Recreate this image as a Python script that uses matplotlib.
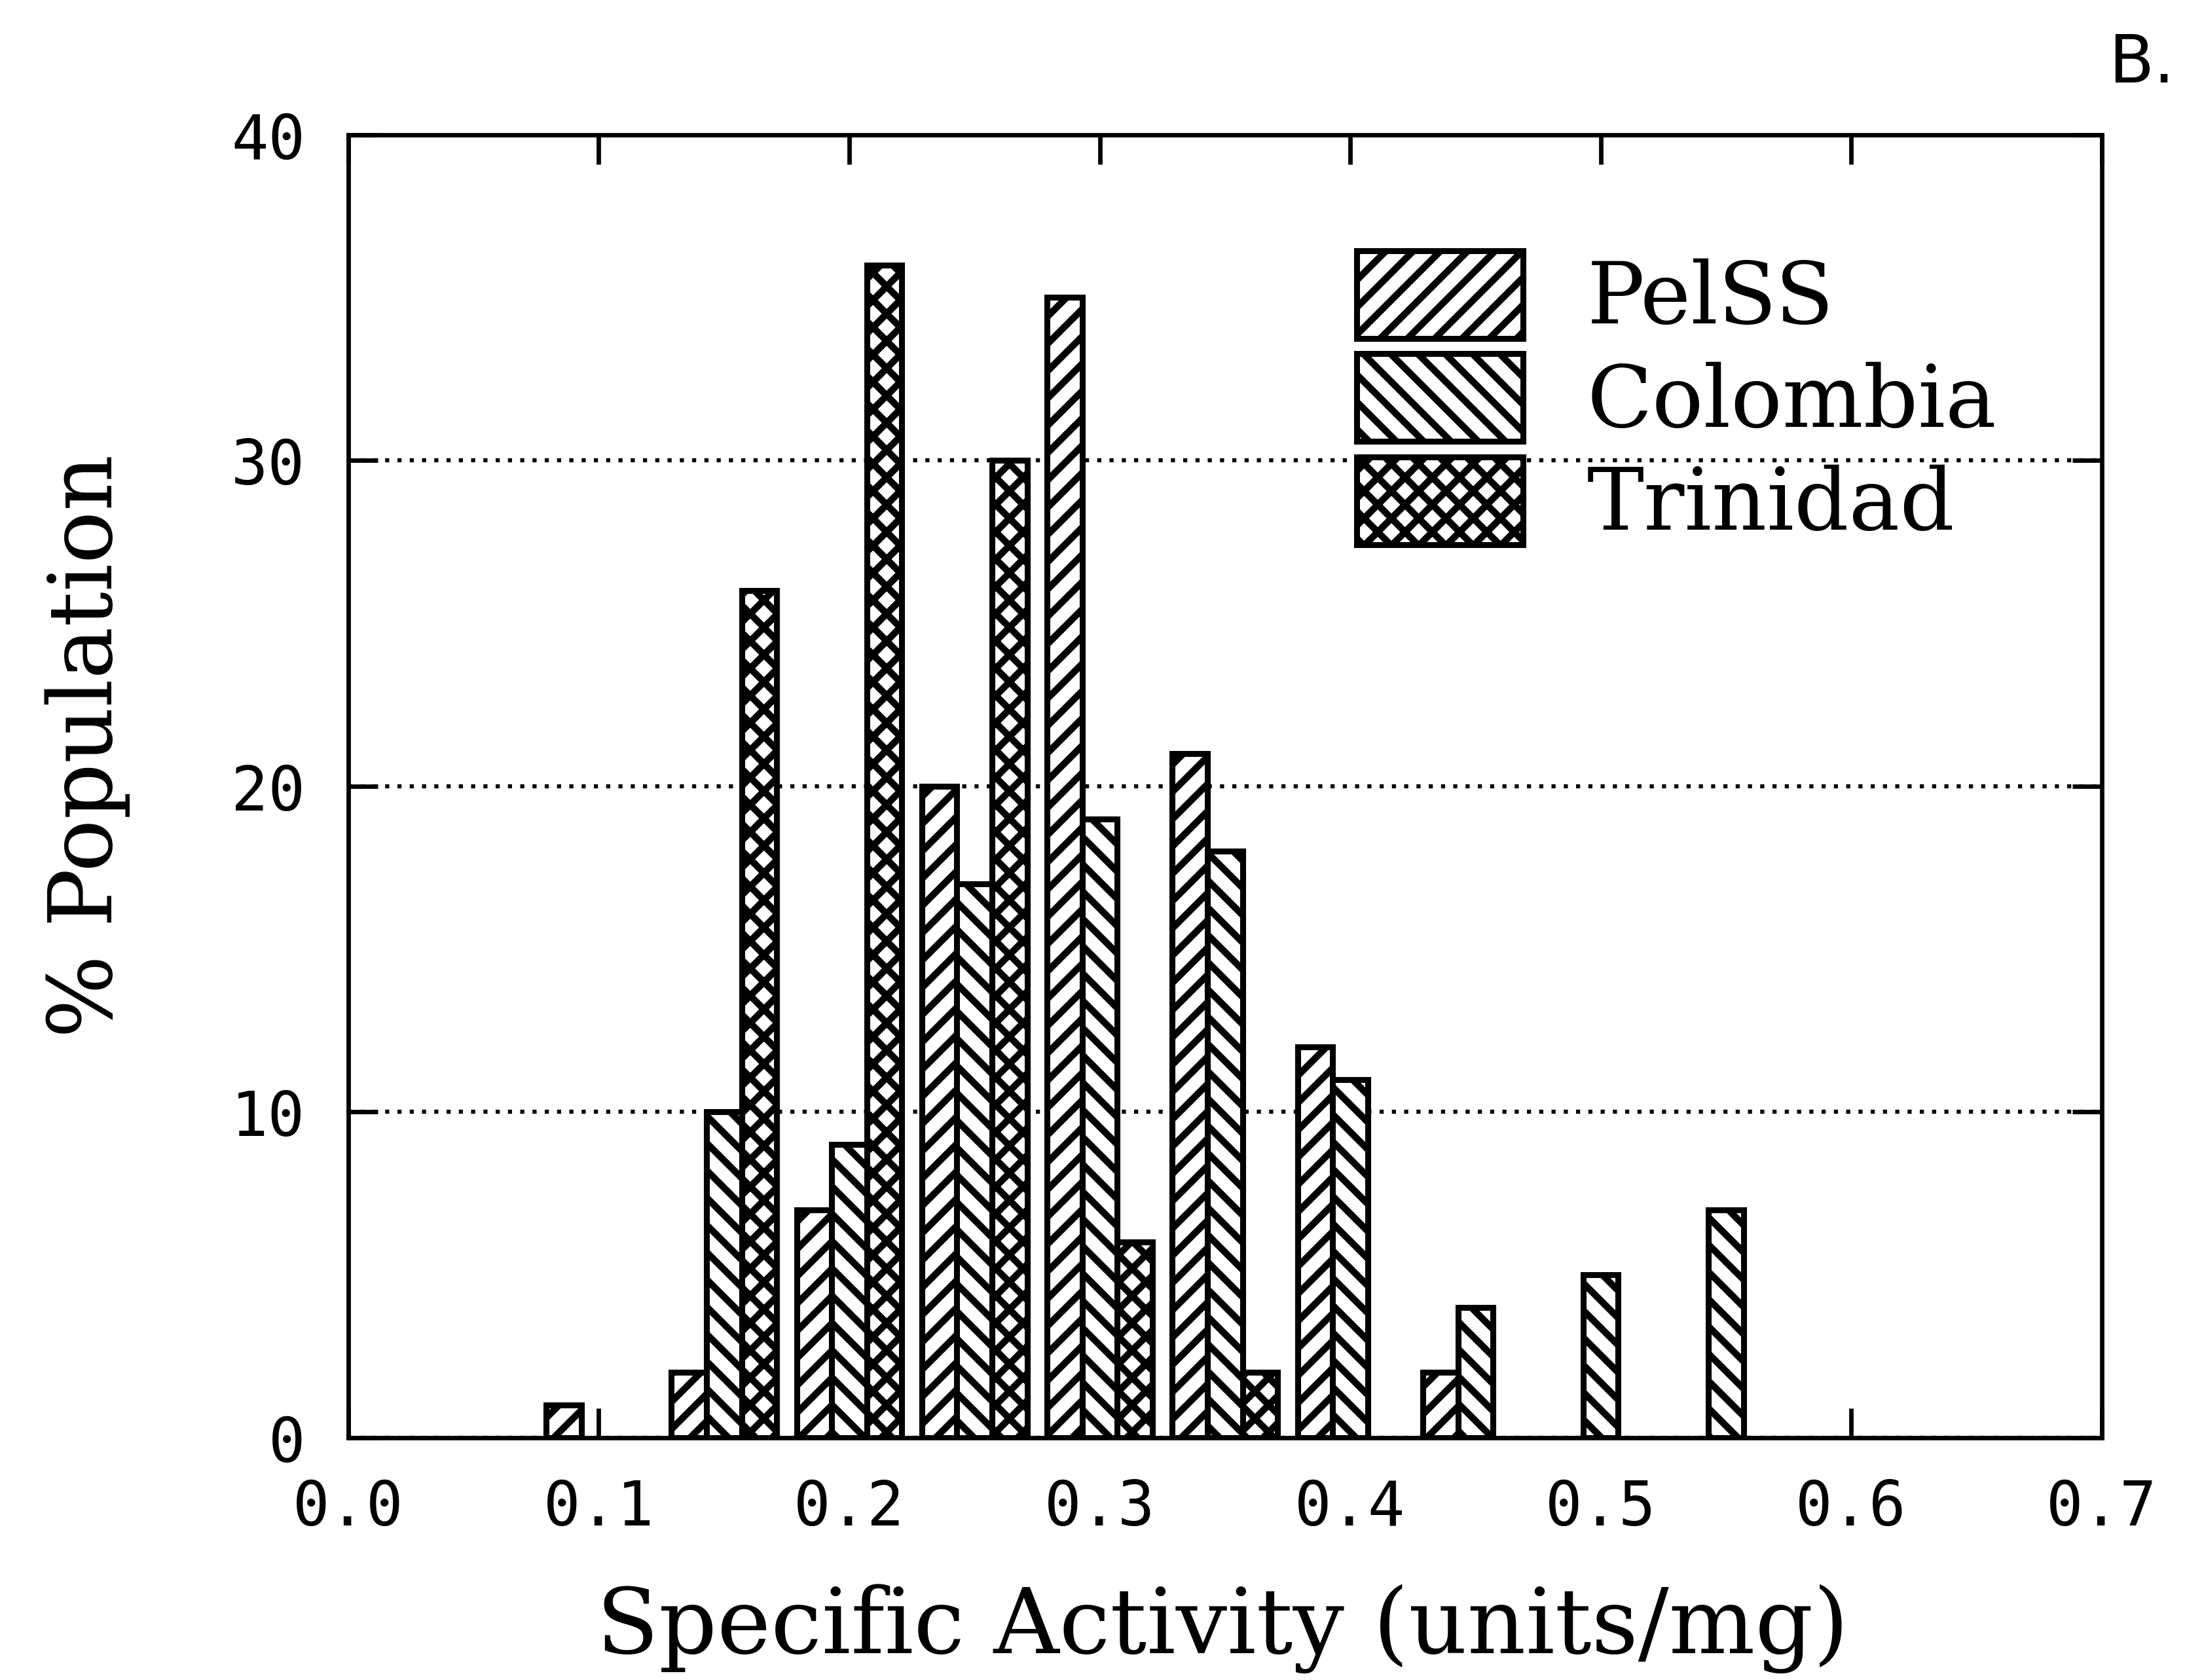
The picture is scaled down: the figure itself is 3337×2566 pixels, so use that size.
"""Specific activity distribution, three populations (panel B)."""
import matplotlib.pyplot as plt
import numpy as np

DPI = 250

# bin centres (units/mg) and % population per strain
activity = [0.10, 0.15, 0.20, 0.25, 0.30, 0.35, 0.40, 0.45, 0.50, 0.55]
pelss = [1, 2, 7, 20, 35, 21, 12, 2, 0, 0]
colombia = [0, 10, 9, 17, 19, 18, 11, 4, 5, 7]
trinidad = [0, 26, 36, 30, 6, 2, 0, 0, 0, 0]

x_ticks = [0.0, 0.1, 0.2, 0.3, 0.4, 0.5, 0.6, 0.7]
y_ticks = [0, 10, 20, 30, 40]

plt.rcParams["hatch.linewidth"] = 3.0
plt.rcParams["hatch.color"] = "black"

fig = plt.figure(figsize=(3337.4 / DPI, 2566.4 / DPI), dpi=DPI,
                 facecolor="white")
ax = fig.add_axes([0.1594, 0.1442, 0.8023, 0.7755])

width = 0.014
series = [
    ("PelSS", pelss, -width, "//"),
    ("Colombia", colombia, 0.0, "\\\\"),
    ("Trinidad", trinidad, width, "xx"),
]
x = np.asarray(activity)
for name, vals, off, hatch in series:
    v = np.asarray(vals, dtype=float)
    keep = v > 0
    ax.bar(x[keep] + off, v[keep], width=width, facecolor="white",
           edgecolor="black", linewidth=2.6, hatch=hatch, zorder=3,
           label=name)

ax.set_xlim(0.0, 0.7)
ax.set_ylim(0, 40)
ax.set_xticks(x_ticks)
ax.set_xticklabels([f"{t:.1f}" for t in x_ticks])
ax.set_yticks(y_ticks)
ax.set_yticklabels([str(t) for t in y_ticks])

ax.yaxis.grid(True, color="black", linestyle=(0, (1, 2)), linewidth=1.8)
ax.xaxis.grid(False)
ax.set_axisbelow(True)

for side in ax.spines.values():
    side.set_linewidth(1.95)
    side.set_color("black")

ax.tick_params(axis="both", direction="in", top=True, right=True,
               length=13, width=1.95, colors="black")
ax.tick_params(axis="x", pad=17.5)
ax.tick_params(axis="y", pad=19)
for lab in ax.get_xticklabels() + ax.get_yticklabels():
    lab.set_family("DejaVu Sans Mono")
    lab.set_fontsize(27)

fig.text(0.5596, 0.004, "Specific Activity (units/mg)", ha="center",
         va="bottom", family="DejaVu Serif", fontsize=40)
fig.text(0.040, 0.556, "% Population", ha="center", va="center",
         rotation=90, family="DejaVu Serif", fontsize=38.5)
fig.text(0.980, 0.962, "B.", ha="center", va="center",
         family="DejaVu Sans", fontsize=29)

leg = ax.legend(loc="upper left", bbox_to_anchor=(0.575, 0.911),
                frameon=False, handlelength=1.95,
                handleheight=1.2, handletextpad=0.75, labelspacing=0.15,
                borderpad=0, borderaxespad=0,
                prop={"family": "DejaVu Serif", "size": 37.6})

fig.savefig("out.png", dpi=DPI, facecolor="white")
